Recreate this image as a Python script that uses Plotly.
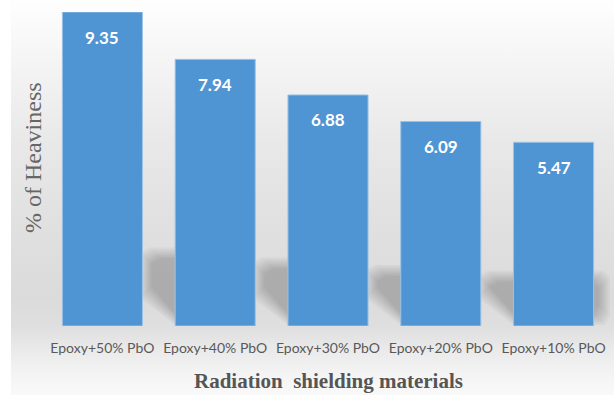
import base64
import plotly.graph_objects as go

# Data
materials = ["Epoxy+50% PbO", "Epoxy+40% PbO", "Epoxy+30% PbO", "Epoxy+20% PbO", "Epoxy+10% PbO"]
heaviness = [9.35, 7.94, 6.88, 6.09, 5.47]
value_labels = [f"{v:.2f}" for v in heaviness]

# Figure geometry
W, H = 614, 395
ML, MR, MT, MB = 46, 4, 12, 69
PW, PH = W - ML - MR, H - MT - MB
BARGAP = 0.29
HALF = (1 - BARGAP) / 2
YMAX = max(heaviness)
PX_X = PW / len(materials)   # px per category unit
PX_Y = PH / YMAX             # px per value unit

# Soft vertical background wash
stops = [(0.00, "#fefefe"), (0.05, "#fbfbfb"), (0.15, "#f5f5f5"), (0.35, "#e9e9e9"),
         (0.55, "#e1e1e1"), (0.75, "#dbdbdb"), (0.83, "#dfdfdf"), (0.88, "#e9e9e9"),
         (0.94, "#f3f3f3"), (1.00, "#f9f9f9")]
svg = ('<svg xmlns="http://www.w3.org/2000/svg" width="100" height="100" preserveAspectRatio="none">'
       '<defs><linearGradient id="g" x1="0" y1="0" x2="0" y2="1">'
       + "".join(f'<stop offset="{o}" stop-color="{c}"/>' for o, c in stops)
       + '</linearGradient></defs><rect width="100" height="100" fill="url(#g)"/></svg>')
bg_src = "data:image/svg+xml;base64," + base64.b64encode(svg.encode()).decode()
BG_LEFT = 11


def px2x(px):
    return px / PX_X


def px2y(px):
    return px / PX_Y


def path_of(points):
    return "M " + " L ".join(f"{x:.4f},{y:.4f}" for x, y in points) + " Z"


# Ground shadows cast behind the bars, built up in many faint layers for a soft edge
shapes = []
n = len(materials)
LAYERS = 8
STEP = 1.6
SHADE = "rgba(0,0,0,0.028)"
for i, h in enumerate(heaviness):
    xl, xr = i - HALF, i + HALF
    top = 0.28 * h + px2y(4)
    for k in range(LAYERS):
        d = k * STEP
        dx, dy = px2x(d), px2y(d)
        if i > 0:
            pts = [
                (xl, px2y(1) + dy),
                (xl - 0.31 + dx, px2y(28) + dy),
                (xl - 0.31 + dx, top - 0.15 - dy),
                (xl - 0.23 + dx, top - dy),
                (xl + 0.2, top - dy),
                (xl + 0.2, px2y(1) + dy),
            ]
            shapes.append(dict(type="path", xref="x", yref="y", layer="below",
                               path=path_of(pts), fillcolor=SHADE, line=dict(width=0)))
        if i == n - 1:
            pts = [
                (xr - 0.1, px2y(1) + dy),
                (xr - 0.1, top - dy),
                (xr + 0.09 - dx, top - dy),
                (xr + 0.145 - dx, top - 0.2 - dy),
                (xr + 0.145 - dx, 0.3 + dy),
                (xr + 0.1 - dx, px2y(1) + dy),
            ]
            shapes.append(dict(type="path", xref="x", yref="y", layer="below",
                               path=path_of(pts), fillcolor=SHADE, line=dict(width=0)))

fig = go.Figure(go.Bar(
    x=list(range(n)),
    y=heaviness,
    marker=dict(color="#4f94d3", line=dict(color="#9cc2e6", width=1)),
    hoverinfo="skip",
))

# Value labels near the top of each bar
annotations = [
    dict(x=i, y=v, xref="x", yref="y", text=f"<b>{t}</b>", showarrow=False,
         yanchor="middle", yshift=-25,
         font=dict(family="Lato", size=17, color="white"))
    for i, (v, t) in enumerate(zip(heaviness, value_labels))
]
annotations += [
    dict(text="<b>Radiation  shielding materials</b>", xref="paper", yref="paper",
         x=0.5, y=-(381 - MT - PH) / PH, xanchor="center", yanchor="middle",
         showarrow=False, font=dict(family="Liberation Serif", size=21, color="#555555")),
    dict(text="% of Heaviness", xref="paper", yref="paper",
         x=-(ML - 33) / PW, y=(MT + PH - 158) / PH, xanchor="center", yanchor="middle",
         textangle=-90, showarrow=False,
         font=dict(family="Liberation Serif", size=24, color="#666666")),
]

fig.update_layout(
    width=W, height=H,
    margin=dict(l=ML, r=MR, t=MT, b=MB, pad=0),
    paper_bgcolor="white",
    plot_bgcolor="rgba(0,0,0,0)",
    bargap=BARGAP,
    showlegend=False,
    shapes=shapes,
    annotations=annotations,
    images=[dict(source=bg_src, xref="paper", yref="paper",
                 x=(BG_LEFT - ML) / PW, y=(MT + PH) / PH,
                 sizex=(W - BG_LEFT) / PW, sizey=H / PH,
                 xanchor="left", yanchor="top", sizing="stretch", layer="below")],
    xaxis=dict(range=[-0.5, n - 0.5], tickmode="array", tickvals=list(range(n)),
               ticktext=materials, showgrid=False, zeroline=False, showline=False,
               ticks="", ticklabelstandoff=12,
               tickfont=dict(family="Lato", size=14, color="#595959"), fixedrange=True),
    yaxis=dict(range=[0, YMAX], visible=False, showgrid=False, zeroline=False, fixedrange=True),
)

fig.write_html("out.html", config={"displayModeBar": False})
